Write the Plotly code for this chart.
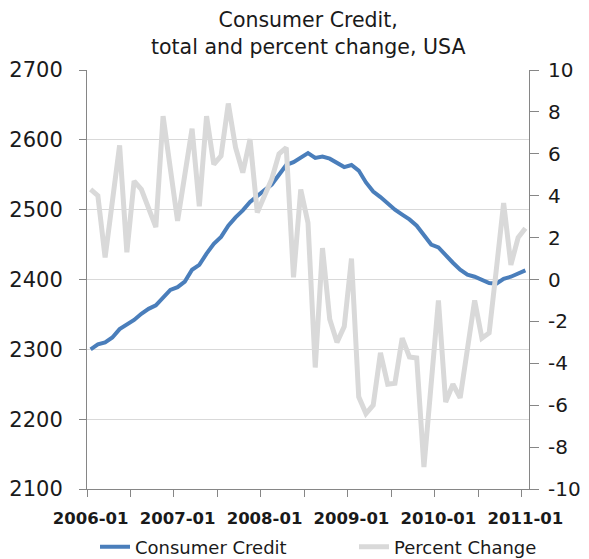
import plotly.graph_objects as go

# Monthly categories 2006-01 .. 2011-01
months = [f"{y}-{m:02d}" for y in range(2006, 2011) for m in range(1, 13)] + ["2011-01"]

consumer_credit = [
    2300, 2307, 2310, 2317, 2329, 2335, 2342, 2351, 2358, 2363,
    2375, 2385, 2389, 2397, 2414, 2421, 2437, 2451, 2461, 2477,
    2489, 2499, 2511, 2520, 2528, 2536, 2549, 2564, 2568, 2575,
    2581, 2574, 2576, 2573, 2567, 2561, 2564, 2556, 2539, 2526,
    2518, 2509, 2500, 2493, 2486, 2477, 2464, 2450, 2446, 2434,
    2424, 2414, 2407, 2404, 2399, 2395, 2394, 2401, 2404, 2408,
    2413,
]

percent_change = [
    4.3, 4.0, 1.05, 3.7, 6.4, 1.3, 4.7, 4.3, 3.4, 2.5,
    7.8, 5.3, 2.8, 5.0, 7.2, 3.5, 7.8, 5.5, 5.9, 8.4,
    6.3, 5.1, 6.7, 3.2, 4.0, 4.8, 6.0, 6.3, 0.1, 4.3,
    2.7, -4.2, 1.5, -1.9, -3.0, -2.25, 1.0, -5.6, -6.4, -6.0,
    -3.5, -5.0, -4.95, -2.8, -3.7, -3.75, -8.95, -5.0, -1.0, -5.85,
    -5.0, -5.65, -3.3, -1.0, -2.8, -2.55, 0.5, 3.65, 0.7, 2.0,
    2.45,
]

label_every = 12
tick_every = 6
left_ticks = list(range(2100, 2701, 100))
right_ticks = list(range(-10, 11, 2))
right_tick_text = [str(v) for v in right_ticks]

idx = list(range(len(months)))
label_pos = idx[::label_every]
label_txt = [months[i] for i in label_pos]

FONT = "DejaVu Sans"
AXIS = "#868686"
TXT = "#1a1a1a"

W, H = 581, 551  # page body has an 8px margin

fig = go.Figure()
fig.add_trace(go.Scatter(
    x=idx, y=consumer_credit, name="Consumer Credit", mode="lines",
    line=dict(color="#4A7EBB", width=4), yaxis="y", legend="legend",
))
fig.add_trace(go.Scatter(
    x=idx, y=percent_change, name="Percent Change", mode="lines",
    line=dict(color="#D9D9D9", width=5), yaxis="y2", legend="legend2",
))

fig.add_annotation(
    text="Consumer Credit,<br>total and percent change, USA",
    xref="paper", yref="paper", x=0.50, y=1.0 + 36.5 / 419, xanchor="center",
    yanchor="middle", showarrow=False, align="center",
    font=dict(size=20.5, family=FONT, color=TXT),
)

leg_common = dict(
    orientation="h", xanchor="left", xref="container",
    y=1 - 539 / H, yanchor="middle", yref="container",
    font=dict(size=18, family=FONT, color=TXT),
    bgcolor="rgba(0,0,0,0)", borderwidth=0,
)

fig.update_layout(
    width=W, height=H,
    margin=dict(l=79, r=60, t=62, b=70, autoexpand=False),
    plot_bgcolor="white", paper_bgcolor="white",
    font=dict(family=FONT, color=TXT),
    showlegend=True,
    legend=dict(x=87 / W, **leg_common),
    legend2=dict(x=346 / W, **leg_common),
    xaxis=dict(
        range=[-0.5, len(months) - 0.5], automargin=False,
        tickmode="array", tickvals=label_pos, ticktext=label_txt,
        ticks="", showgrid=False, zeroline=False,
        showline=True, linecolor=AXIS, linewidth=1,
        tickfont=dict(size=16.5, family=FONT, color=TXT, weight="bold"),
        ticklabelstandoff=14,
        minor=dict(tick0=-0.5, dtick=tick_every, ticks="outside",
                   ticklen=7, tickcolor=AXIS, showgrid=False),
    ),
    yaxis=dict(
        range=[2100, 2700], tickmode="array", tickvals=left_ticks, automargin=False,
        showgrid=True, gridcolor="#D9D9D9", gridwidth=1, zeroline=False,
        showline=True, linecolor=AXIS, linewidth=1,
        ticks="outside", ticklen=7, tickcolor=AXIS,
        tickfont=dict(size=21, family=FONT, color=TXT),
        ticklabelstandoff=12,
    ),
    yaxis2=dict(
        range=[-10, 10], tickmode="array", tickvals=right_ticks,
        ticktext=right_tick_text, automargin=False,
        overlaying="y", side="right", showgrid=False, zeroline=False,
        showline=True, linecolor=AXIS, linewidth=1,
        ticks="outside", ticklen=9, tickcolor=AXIS,
        tickfont=dict(size=20, family=FONT, color=TXT),
        ticklabelstandoff=5,
    ),
)

fig.write_html("out.html")
